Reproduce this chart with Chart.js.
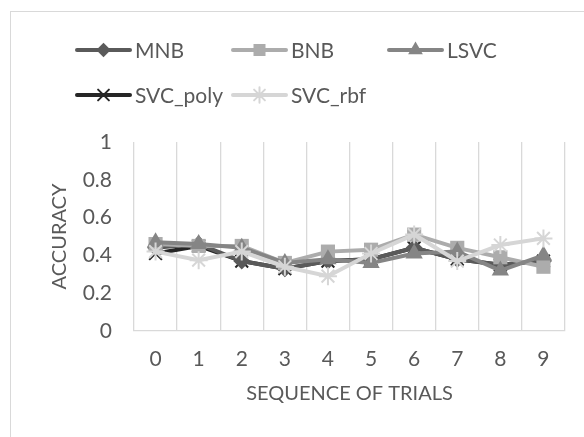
<!DOCTYPE html>
<html>
<head>
<meta charset="utf-8">
<script src="https://cdn.jsdelivr.net/npm/chart.js@4.4.1/dist/chart.umd.min.js"></script>
<style>
    html, body { margin: 0; padding: 0; background: #fff; overflow: hidden; }
    #wrap { position: relative; width: 584px; height: 437px; }
    #frame { position: absolute; left: 10px; top: 11px; width: 620px; height: 500px; border: 1px solid #d9d9d9; }
    canvas { position: absolute; left: 0; top: 0; }
</style>
</head>
<body>
<div id="wrap">
    <div id="frame"></div>
    <canvas id="chart" width="584" height="437"></canvas>
</div>
<script>
const trials = ['0', '1', '2', '3', '4', '5', '6', '7', '8', '9'];

const mnb = [0.44, 0.46, 0.37, 0.33, 0.37, 0.38, 0.44, 0.38, 0.35, 0.37];
const bnb = [0.46, 0.45, 0.45, 0.36, 0.42, 0.43, 0.51, 0.44, 0.39, 0.34];
const lsvc = [0.47, 0.46, 0.44, 0.36, 0.38, 0.36, 0.41, 0.42, 0.32, 0.40];
const svcPoly = [0.41, 0.45, 0.37, 0.33, 0.37, 0.38, 0.44, 0.38, 0.35, 0.37];
const svcRbf = [0.42, 0.375, 0.42, 0.34, 0.29, 0.41, 0.51, 0.37, 0.455, 0.49];

const textColor = '#595959';
const fontFamily = 'Lato, "Liberation Sans", sans-serif';

function series(label, data, color, style, radius, order) {
    const stroked = style === 'crossRot' || style === 'star';
    return {
        label: label,
        data: data,
        borderColor: color,
        backgroundColor: color,
        borderWidth: 4,
        tension: 0,
        pointStyle: style,
        pointRadius: radius,
        pointHoverRadius: radius,
        pointBackgroundColor: color,
        pointBorderColor: color,
        pointBorderWidth: stroked ? 2 : 0,
        order: order,
    };
}

// draws the two-row legend with line + marker like the original
const lineLegend = {
    id: 'lineLegend',
    afterDraw(chart) {
        const ctx = chart.ctx;
        chart.data.datasets.forEach((ds, i) => {
            const col = i % 3;
            const row = Math.floor(i / 3);
            const x = 77 + col * 156;
            const y = 50 + row * 45;
            ctx.save();
            ctx.strokeStyle = ds.borderColor;
            ctx.lineWidth = 4;
            ctx.lineCap = 'round';
            ctx.beginPath();
            ctx.moveTo(x, y);
            ctx.lineTo(x + 53, y);
            ctx.stroke();
            ctx.fillStyle = ds.pointBackgroundColor;
            ctx.strokeStyle = ds.pointBorderColor;
            ctx.lineWidth = ds.pointBorderWidth;
            Chart.helpers.drawPoint(ctx, {
                pointStyle: ds.pointStyle,
                radius: ds.pointRadius * 0.85,
                borderWidth: ds.pointBorderWidth,
                rotation: 0,
            }, x + 26.5, y);
            ctx.fillStyle = textColor;
            ctx.font = '21px ' + fontFamily;
            ctx.textBaseline = 'middle';
            ctx.textAlign = 'left';
            ctx.fillText(ds.label, x + 58, y + 1);
            ctx.restore();
        });
    }
};

const ctx = document.getElementById('chart').getContext('2d');
new Chart(ctx, {
    type: 'line',
    data: {
        labels: trials,
        datasets: [
            series('MNB', mnb, '#5a5a5a', 'rectRot', 8.5, 5),
            series('BNB', bnb, '#acacac', 'rect', 10, 4),
            series('LSVC', lsvc, '#858585', 'triangle', 10, 3),
            series('SVC_poly', svcPoly, '#262626', 'crossRot', 9, 6),
            series('SVC_rbf', svcRbf, '#d6d6d6', 'star', 9, 1),
        ],
    },
    options: {
        responsive: false,
        animation: false,
        layout: {
            padding: { top: 142, right: 19, left: 0, bottom: 0 },
        },
        plugins: {
            legend: { display: false },
            tooltip: { enabled: false },
        },
        scales: {
            x: {
                offset: true,
                grid: {
                    display: true,
                    offset: true,
                    color: '#d9d9d9',
                    lineWidth: 1.3,
                    drawTicks: false,
                },
                border: { display: true, color: '#d9d9d9', width: 1.3 },
                ticks: {
                    color: textColor,
                    font: { family: fontFamily, size: 21 },
                    padding: 16,
                },
                title: {
                    display: true,
                    text: 'SEQUENCE OF TRIALS',
                    color: textColor,
                    font: { family: fontFamily, size: 20 },
                    padding: { top: 0, bottom: 31 },
                },
                afterFit(scale) {
                    scale.height = 106;
                },
            },
            y: {
                min: 0,
                max: 1,
                ticks: {
                    stepSize: 0.2,
                    color: textColor,
                    font: { family: fontFamily, size: 21 },
                    padding: 22,
                    callback: (v) => String(Math.round(v * 10) / 10),
                },
                grid: { display: false, drawTicks: false },
                border: { display: false },
                title: {
                    display: true,
                    text: 'ACCURACY',
                    color: textColor,
                    font: { family: fontFamily, size: 20 },
                    padding: { top: 48, bottom: 0 },
                },
                afterFit(scale) {
                    scale.width = 134;
                },
            },
        },
    },
    plugins: [lineLegend],
});
</script>
</body>
</html>
